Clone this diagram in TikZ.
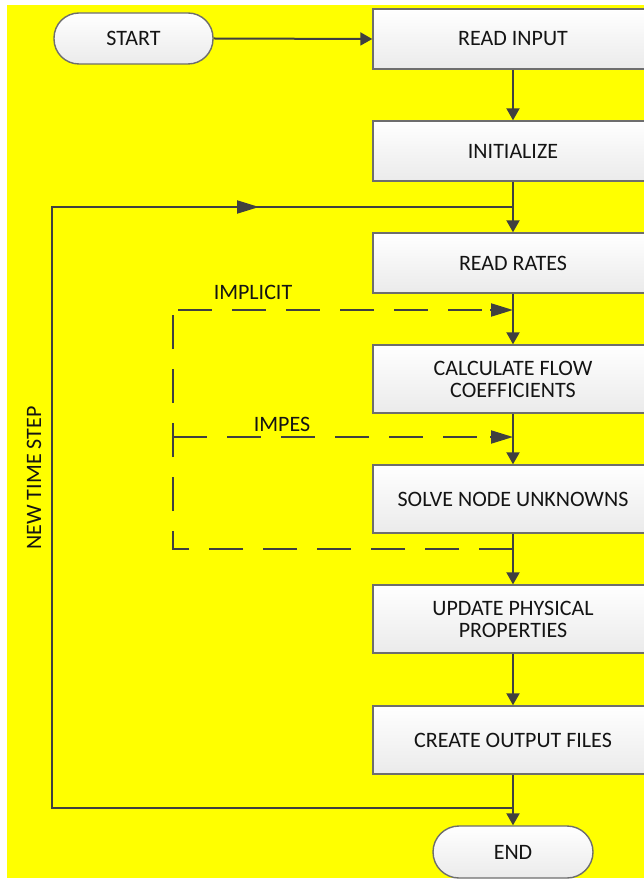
\documentclass[tikz,border=0pt]{standalone}
\usepackage{fontspec}
\setmainfont{Carlito}
\usetikzlibrary{arrows.meta,calc}
\definecolor{ln}{HTML}{404040}
\definecolor{bd}{HTML}{6E6E6E}
\definecolor{tx}{HTML}{141414}
\definecolor{yel}{RGB}{255,255,0}
\begin{document}
\begin{tikzpicture}[x=1pt,y=-1pt,
  every node/.style={font=\fontsize{22}{22}\selectfont, text=tx},
  procbox/.style={draw=bd, line width=1.4pt, top color=white, bottom color=black!8, minimum width=280pt, align=center, inner sep=0pt},
  termbox/.style={draw=bd, line width=1.4pt, top color=white, bottom color=black!8, minimum width=159pt, minimum height=51pt, rounded corners=25pt, inner sep=0pt},
  conn/.style={draw=ln, line width=2pt},
  arr/.style={conn, -{Triangle[length=12pt,width=13pt]}},
  longarr/.style={conn, -{Triangle[length=22pt,width=13pt]}},
  dsh/.style={draw=ln, line width=2pt, dash pattern=on 34pt off 20pt},
  lbl/.style={font=\fontsize{22}{22}\selectfont}]
\useasboundingbox (0,0) rectangle (644,882);
\fill[yel] (7,5) rectangle (644,878);
\begin{scope}
\clip (0,0) rectangle (644,882);
\node[termbox] (start) at (133.5,38.5) {START};
\node[procbox, minimum height=60pt] (read) at (513,39) {READ INPUT};
\node[procbox, minimum height=60pt] (init) at (513,151) {INITIALIZE};
\node[procbox, minimum height=60pt] (rates) at (513,263) {READ RATES};
\node[procbox, minimum height=68pt] (calc) at (513,379) {CALCULATE FLOW\\COEFFICIENTS};
\node[procbox, minimum height=68pt] (solve) at (513,499) {SOLVE NODE UNKNOWNS};
\node[procbox, minimum height=68pt] (upd) at (513,619) {UPDATE PHYSICAL\\PROPERTIES};
\node[procbox, minimum height=68pt] (out) at (513,740) {CREATE OUTPUT FILES};
\node[termbox, minimum width=160pt, minimum height=52pt, rounded corners=26pt] (endn) at (513,852) {END};
\end{scope}
% main flow
\draw[arr] (start.east) -- (read.west);
\draw[arr] (read.south) -- (init.north);
\draw[arr] (init.south) -- (rates.north);
\draw[arr] (rates.south) -- (calc.north);
\draw[arr] (calc.south) -- (solve.north);
\draw[arr] (solve.south) -- (upd.north);
\draw[arr] (upd.south) -- (out.north);
\draw[arr] (out.south) -- (endn.north);
% time step loop
\coordinate (lb) at (513,808);
\coordinate (ll) at (52,808);
\coordinate (lt) at (52,207);
\coordinate (lj) at (513,207);
\coordinate (lm) at (259,207);
\draw[conn] (lb) -- (ll) -- (lt) -- (lj);
\draw[longarr] (lt) -- (lm);
% dashed iterations
\coordinate (db) at (513,549);
\coordinate (dbl) at (173,549);
\coordinate (dtl) at (173,310);
\coordinate (dt) at (513,310);
\coordinate (dm) at (173,437);
\coordinate (dmr) at (513,437);
\draw[dsh] (db) -- (dbl) -- (dtl);
\draw[dsh] (178,310) -- (490,310);
\draw[longarr] (490,310) -- (dt);
\draw[dsh] (dm) -- (490,437);
\draw[longarr] (490,437) -- (dmr);
% labels
\node[lbl] (limp) at (253,292) {IMPLICIT};
\node[lbl] (limpes) at (282,424) {IMPES};
\node[lbl, rotate=90] (lnew) at (34,478) {NEW TIME STEP};
\end{tikzpicture}
\end{document}
